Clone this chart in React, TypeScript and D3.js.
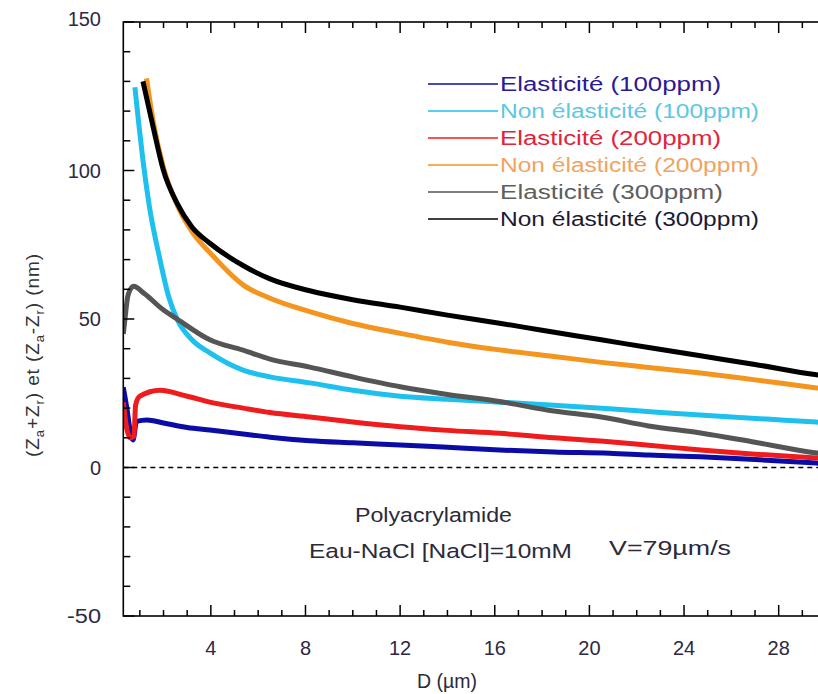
import React from "react";
import * as d3 from "d3";

type Pt = [number, number];

const seriesNames = [
  "Elasticité (100ppm)",
  "Non élasticité (100ppm)",
  "Elasticité (200ppm)",
  "Non élasticité (200ppm)",
  "Elasticité (300ppm)",
  "Non élasticité (300ppm)",
];

const elast100: Pt[] = [[0.3,27],[0.45,20],[0.6,12],[0.71,9.3],[0.86,15.5],[1.3,16],[2,15],[3,13.5],[3.96,12.6],[5.36,11.3],[6.5,10.2],[8.18,9],[10,8.3],[12,7.6],[14,6.8],[16.2,5.9],[18.5,5.2],[20.85,4.8],[22.5,4.2],[24.7,3.6],[27,2.7],[29.6,1.5],[30,1.3]];
const nonElast100: Pt[] = [[0.79,128],[0.95,116],[1.13,103.5],[1.4,88],[1.85,70],[2.2,58],[2.57,50],[3.2,43],[3.96,38.6],[5.36,32.8],[6.5,30.5],[8.18,28.5],[10,26],[12,24],[14,23],[16.2,22],[18.5,21],[20.85,19.8],[23,18.5],[25,17.5],[27.5,16.3],[29.6,15.3],[30,15.1]];
const elast200: Pt[] = [[0.3,22],[0.45,13],[0.6,10],[0.75,10.5],[0.82,21],[1.0,24],[1.85,26],[3,24],[3.96,22],[5.36,20],[6.5,18.5],[8.18,17],[10,15.3],[12,13.7],[14,12.5],[16.2,11.5],[18.5,10],[20.85,8.7],[22.5,7.5],[24.7,5.9],[27,4.5],[29.6,3.2],[30,3]];
const nonElast200: Pt[] = [[1.28,131],[1.6,115],[2,101],[2.6,88],[3.24,79],[4,72],[5.36,61.5],[6.5,57],[8.18,52.5],[10,48.5],[12,45.2],[14,42.2],[16.2,39.6],[18.5,37.4],[20.5,35.4],[22.5,33.7],[24.7,31.8],[27,29.5],[29.6,26.8],[30,26.4]];
const elast300: Pt[] = [[0.3,45],[0.37,50],[0.5,58],[0.73,61],[1.2,58.5],[2,53],[2.57,50],[3.96,43],[5.36,39.5],[6.5,36.5],[8.18,33.8],[10,30.5],[12,27.2],[14,24.6],[16.2,22.2],[18.5,19],[20.5,17],[22.5,14],[24.7,11.6],[27,8.5],[29.6,4.9],[30,4.5]];
const nonElast300: Pt[] = [[1.13,130],[1.56,114.7],[1.99,100.2],[2.57,89],[3.2,81],[3.96,75.5],[5.36,68],[6.5,63.5],[8.18,59.5],[10,56.5],[12,54],[14,51.3],[16.2,48.6],[18,46.2],[20.5,43],[22.5,40.4],[24.7,37.6],[27,34.7],[29.6,31.2],[30,30.8]];

const seriesData = [elast100, nonElast100, elast200, nonElast200, elast300, nonElast300];
const lineColors = ["#0b0ba6", "#1ec0ee", "#ee1c1c", "#f3951f", "#555555", "#000000"];
const legendTextColors = ["#2a1a94", "#5cc8e2", "#e0243c", "#f0a462", "#5e5e5e", "#1a1a34"];
const legendTextWidths = [221, 259, 221, 259, 223, 259];

const xTickLabels = [4, 8, 12, 16, 20, 24, 28];
const yTickLabels = [-50, 0, 50, 100, 150];

const annotations = [
  { text: "Polyacrylamide", x: 355, y: 522, w: 157 },
  { text: "Eau-NaCl [NaCl]=10mM", x: 309, y: 558, w: 263 },
  { text: "V=79µm/s", x: 609, y: 555, w: 122 },
];

export default function App() {
  const left = 123.3, right = 826, top = 22, bottom = 616;
  const x = d3.scaleLinear().domain([0.3, 30]).range([left, right]);
  const y = d3.scaleLinear().domain([-50, 150]).range([bottom, top]);
  const line = d3
    .line<Pt>()
    .x((d) => x(d[0]))
    .y((d) => y(d[1]))
    .curve(d3.curveMonotoneX);

  const xMinor = d3.range(1, 30).filter((v) => v % 4 !== 0);
  const yMinor = d3.range(-40, 150, 10).filter((v) => v % 50 !== 0);
  const font = "'Liberation Sans', Arial, sans-serif";
  const tickColor = "#2e2842";

  return (
    <svg
      width={818}
      height={694}
      style={{ position: "fixed", left: 0, top: 0, background: "#fff" }}
      fontFamily={font}
    >
      <rect x={0} y={0} width={818} height={694} fill="#fff" />
      <defs>
        <clipPath id="plot">
          <rect x={left} y={top} width={right - left} height={bottom - top} />
        </clipPath>
      </defs>
      <line x1={left} x2={right} y1={y(0)} y2={y(0)} stroke="#000" strokeWidth={1.5} strokeDasharray="5,4" />
      <g clipPath="url(#plot)">
        {seriesData.map((s, i) => (
          <path
            key={i}
            d={line(s) || ""}
            fill="none"
            stroke={lineColors[i]}
            strokeWidth={5}
            strokeLinejoin="round"
          />
        ))}
      </g>
      <rect x={left} y={top} width={right - left} height={bottom - top} fill="none" stroke="#000" strokeWidth={1.6} />
      {xTickLabels.map((v) => (
        <g key={"xM" + v}>
          <line x1={x(v)} x2={x(v)} y1={bottom} y2={bottom - 11} stroke="#000" strokeWidth={1.5} />
          <line x1={x(v)} x2={x(v)} y1={top} y2={top + 11} stroke="#000" strokeWidth={1.5} />
          <text x={x(v)} y={655} textAnchor="middle" fontSize={20} fill={tickColor}>
            {v}
          </text>
        </g>
      ))}
      {xMinor.map((v) => (
        <g key={"xm" + v}>
          <line x1={x(v)} x2={x(v)} y1={bottom} y2={bottom - 6} stroke="#000" strokeWidth={1.5} />
          <line x1={x(v)} x2={x(v)} y1={top} y2={top + 6} stroke="#000" strokeWidth={1.5} />
        </g>
      ))}
      {yTickLabels.map((v) => (
        <g key={"yM" + v}>
          <line x1={left} x2={left + 11} y1={y(v)} y2={y(v)} stroke="#000" strokeWidth={1.5} />
          <text
            x={101}
            y={y(v) + 7 - (v === 150 ? 3 : 0)}
            textAnchor="end"
            fontSize={20}
            fill={tickColor}
            textLength={v < 0 ? 34 : undefined}
            lengthAdjust={v < 0 ? "spacingAndGlyphs" : undefined}
          >
            {v}
          </text>
        </g>
      ))}
      {yMinor.map((v) => (
        <line key={"ym" + v} x1={left} x2={left + 7} y1={y(v)} y2={y(v)} stroke="#000" strokeWidth={1.5} />
      ))}
      <text x={447} y={688} textAnchor="middle" fontSize={19.5} fill="#2a2a3a">
        D (µm)
      </text>
      <text
        transform="translate(39,355) rotate(-90)"
        textAnchor="middle"
        fontSize={19}
        fill="#333"
        letterSpacing={0.9}
      >
        <tspan>(Z</tspan>
        <tspan fontSize={13} dy={5}>a</tspan>
        <tspan dy={-5}>+Z</tspan>
        <tspan fontSize={13} dy={5}>r</tspan>
        <tspan dy={-5}>) et (Z</tspan>
        <tspan fontSize={13} dy={5}>a</tspan>
        <tspan dy={-5}>-Z</tspan>
        <tspan fontSize={13} dy={5}>r</tspan>
        <tspan dy={-5}>)  (nm)</tspan>
      </text>
      {seriesNames.map((name, i) => {
        const ly = 84 + i * 27;
        return (
          <g key={name}>
            <line x1={428} x2={498} y1={ly} y2={ly} stroke={lineColors[i]} strokeWidth={1.6} />
            <text
              x={500}
              y={ly + 7}
              fontSize={19.5}
              fill={legendTextColors[i]}
              textLength={legendTextWidths[i]}
              lengthAdjust="spacingAndGlyphs"
            >
              {name}
            </text>
          </g>
        );
      })}
      {annotations.map((a) => (
        <text
          key={a.text}
          x={a.x}
          y={a.y}
          fontSize={20.5}
          fill="#2a2a3a"
          textLength={a.w}
          lengthAdjust="spacingAndGlyphs"
        >
          {a.text}
        </text>
      ))}
    </svg>
  );
}
